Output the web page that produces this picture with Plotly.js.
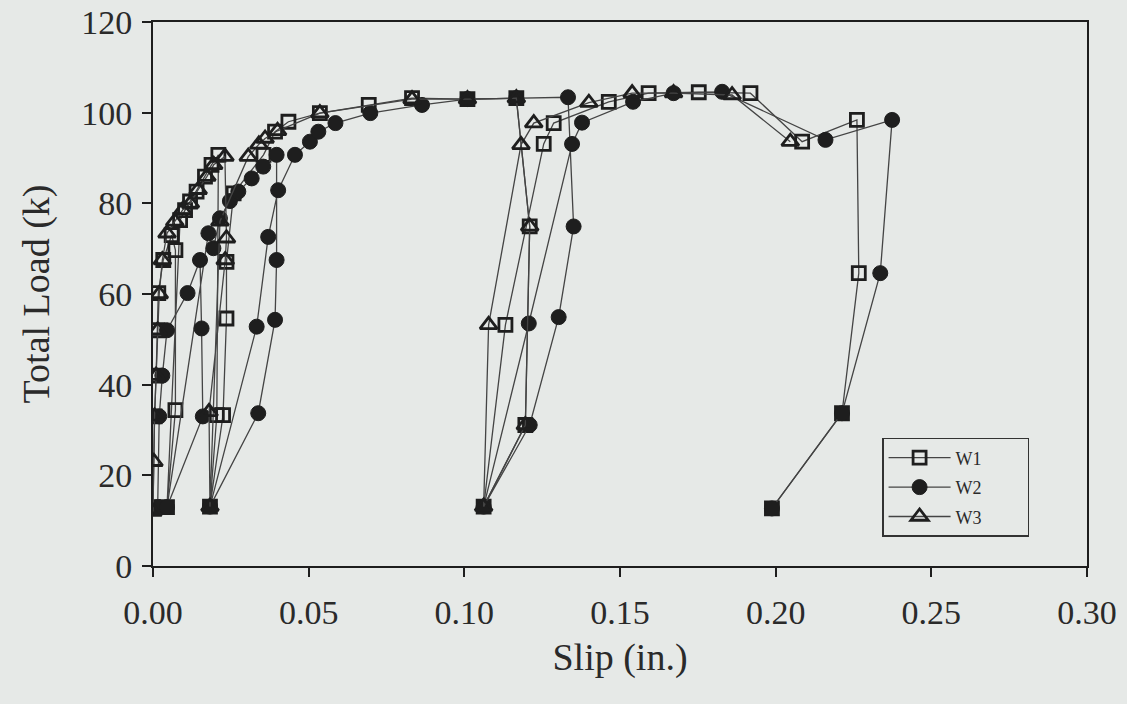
<!DOCTYPE html>
<html>
<head>
<meta charset="utf-8">
<script src="https://cdn.plot.ly/plotly-3.0.1.min.js"></script>
<style>
  html, body { margin: 0; padding: 0; background: #e6e9e7; }
  #chart { width: 1127px; height: 704px; }
</style>
</head>
<body>
<div id="chart"></div>
<script>
// ---- Data (slip in inches, total load in kips) ----
const w1Slip = [0.0000, 0.0005, 0.0010, 0.0015, 0.0017, 0.0033, 0.0060, 0.0072, 0.0072, 0.0045,
                0.0087, 0.0103, 0.0119, 0.0140, 0.0167, 0.0188, 0.0210, 0.0205, 0.0183,
                0.0225, 0.0236, 0.0236, 0.0259, 0.0355, 0.0392, 0.0435, 0.0536, 0.0693, 0.0832,
                0.1010, 0.1167, 0.1210, 0.1196, 0.1062, 0.1132, 0.1255, 0.1287, 0.1464, 0.1592,
                0.1753, 0.1919, 0.2085, 0.2261, 0.2267, 0.2213, 0.1988];
const w1Load = [13.0, 33.0, 42.0, 52.0, 60.2, 67.5, 73.0, 69.7, 34.4, 13.0,
                76.3, 78.5, 80.4, 82.6, 85.9, 88.5, 90.7, 33.3, 13.1,
                33.3, 54.6, 67.1, 82.2, 90.7, 95.8, 98.0, 99.9, 101.7, 103.2,
                103.0, 103.2, 74.9, 31.1, 13.1, 53.2, 93.1, 97.7, 102.4, 104.3,
                104.5, 104.3, 93.6, 98.4, 64.6, 33.7, 12.7];

const w2Slip = [0.0015, 0.0020, 0.0030, 0.0045, 0.0111, 0.0151, 0.0156, 0.0160, 0.0045,
                0.0178, 0.0194, 0.0215, 0.0247, 0.0274, 0.0317, 0.0354, 0.0397, 0.0397, 0.0392,
                0.0338, 0.0183, 0.0333, 0.0370, 0.0402, 0.0456, 0.0504, 0.0531, 0.0586, 0.0698,
                0.0864, 0.1010, 0.1167, 0.1333, 0.1351, 0.1303, 0.1210, 0.1062, 0.1207, 0.1346,
                0.1378, 0.1542, 0.1672, 0.1828, 0.2160, 0.2374, 0.2336, 0.2213, 0.1988];
const w2Load = [13.0, 33.0, 42.0, 52.0, 60.2, 67.5, 52.4, 33.0, 13.0,
                73.4, 70.1, 76.7, 80.5, 82.6, 85.5, 88.1, 90.7, 67.5, 54.3,
                33.7, 13.1, 52.8, 72.6, 82.9, 90.7, 93.6, 95.8, 97.7, 99.9,
                101.7, 103.0, 103.2, 103.4, 74.9, 54.9, 31.1, 13.1, 53.5, 93.1,
                97.8, 102.4, 104.3, 104.6, 94.0, 98.4, 64.6, 33.7, 12.7];

const w3Slip = [0.0000, 0.0003, 0.0005, 0.0010, 0.0015, 0.0020, 0.0030, 0.0045, 0.0070, 0.0095,
                0.0120, 0.0145, 0.0173, 0.0195, 0.0231, 0.0236, 0.0232, 0.0180, 0.0183,
                0.0215, 0.0306, 0.0340, 0.0360, 0.0400, 0.0536, 0.0832, 0.1010, 0.1167, 0.1210,
                0.1196, 0.1062, 0.1078, 0.1182, 0.1223, 0.1400, 0.1539, 0.1672, 0.1860, 0.2047];
const w3Load = [12.0, 23.0, 33.0, 42.0, 52.0, 60.0, 67.5, 73.4, 76.0, 78.5,
                80.0, 83.0, 85.9, 88.5, 90.3, 72.3, 67.5, 34.0, 13.1,
                76.0, 90.3, 93.0, 94.3, 96.0, 99.9, 103.0, 103.0, 103.2, 74.9,
                31.1, 13.1, 53.2, 92.9, 97.7, 102.2, 104.3, 104.3, 103.9, 93.6];

const seriesNames = ['W1', 'W2', 'W3'];
const xTickVals = [0, 0.05, 0.10, 0.15, 0.20, 0.25, 0.30];
const yTickVals = [0, 20, 40, 60, 80, 100, 120];

const ink = '#1e1e1e';
const bg = '#e6e9e7';
const txt = '#2a2a2a';
const lineStyle = {color: '#444444', width: 1.3};
const fontFam = 'Liberation Serif';
const pad = '\u00a0\u00a0\u00a0\u00a0\u00a0\u00a0\u00a0\u00a0\u00a0';

const traces = [
  {x: w1Slip, y: w1Load, name: seriesNames[0] + pad, legendgroup: 'a',
   mode: 'lines+markers', line: lineStyle,
   marker: {symbol: 'square-open', size: 13, color: ink, line: {color: ink, width: 2.8}}},
  {x: w2Slip, y: w2Load, name: seriesNames[1] + pad, legendgroup: 'b',
   mode: 'lines+markers', line: lineStyle,
   marker: {symbol: 'circle', size: 15, color: ink, line: {color: ink, width: 1}}},
  {x: w3Slip, y: w3Load, name: seriesNames[2] + pad, legendgroup: 'c',
   mode: 'lines+markers', line: lineStyle,
   marker: {symbol: 'triangle-up-open', size: 15, color: ink, line: {color: ink, width: 2.8}}}
];

const layout = {
  width: 1127, height: 704,
  paper_bgcolor: bg, plot_bgcolor: bg,
  margin: {l: 153, r: 40, t: 22, b: 138},
  font: {family: fontFam, color: txt},
  showlegend: true,
  legend: {
    x: 0.7806, y: 0.2353, xanchor: 'left', yanchor: 'top',
    bgcolor: bg, bordercolor: '#333', borderwidth: 1.5,
    font: {family: fontFam, size: 18, color: txt},
    tracegroupgap: 3, itemwidth: 62
  },
  xaxis: {
    range: [0, 0.30], tickvals: xTickVals, tickformat: '.2f',
    showgrid: false, zeroline: false,
    showline: true, linecolor: ink, linewidth: 2, mirror: true,
    ticks: 'outside', ticklen: 9, tickwidth: 2, tickcolor: ink,
    ticklabelstandoff: 6,
    tickfont: {family: fontFam, size: 34, color: txt},
    title: {text: 'Slip (in.)', font: {family: fontFam, size: 38, color: txt}, standoff: 14}
  },
  yaxis: {
    range: [0, 120], tickvals: yTickVals,
    showgrid: false, zeroline: false,
    showline: true, linecolor: ink, linewidth: 2, mirror: true,
    ticks: 'outside', ticklen: 9, tickwidth: 2, tickcolor: ink,
    ticklabelstandoff: 3,
    tickfont: {family: fontFam, size: 34, color: txt},
    title: {text: 'Total Load (k)', font: {family: fontFam, size: 38, color: txt}, standoff: 20}
  }
};

Plotly.newPlot('chart', traces, layout, {displayModeBar: false, staticPlot: true});
</script>
</body>
</html>
